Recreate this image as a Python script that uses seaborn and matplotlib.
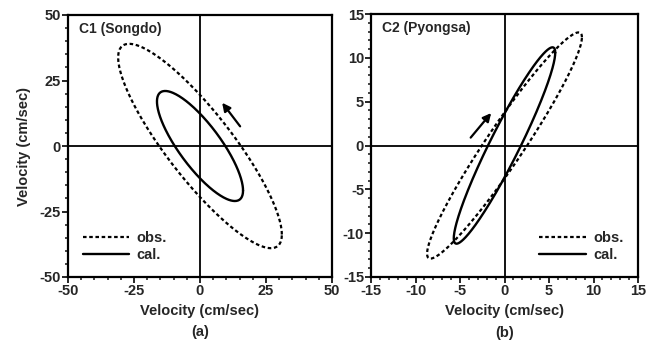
import numpy as np
import pandas as pd
import seaborn as sns
from matplotlib import pyplot as plt
from matplotlib.ticker import MultipleLocator

# Tidal current ellipses:
# u = U cos(t), v = V cos(t - phase)   (cm/sec, phase in degrees)
stations = ['C1 (Songdo)', 'C2 (Pyongsa)']
obs_u_amp = [31.0, 8.7]
obs_v_amp = [39.0, 12.9]
obs_phase = [150.0, 17.0]
cal_u_amp = [16.3, 5.7]
cal_v_amp = [21.0, 11.2]
cal_phase = [144.0, 19.0]

# rotation arrows (tail -> head), data units
arrow_tail = [(15.2, 7.5), (-3.8, 0.9)]
arrow_head = [(8.4, 16.5), (-1.5, 3.7)]

limits = [50, 15]
major_step = [25, 5]
minor_step = [5, 1]
panel_tags = ['(a)', '(b)']
legend_loc = ['lower left', 'lower right']

sns.set_style('white')
plt.rcParams['font.family'] = ['Liberation Sans', 'DejaVu Sans']
plt.rcParams['font.weight'] = 'bold'
plt.rcParams['axes.labelweight'] = 'bold'
plt.rcParams['axes.unicode_minus'] = False

phase_t = np.linspace(0, 2 * np.pi, 361)


def ellipse(U, V, ph):
    return pd.DataFrame({'u': U * np.cos(phase_t),
                         'v': V * np.cos(phase_t - np.deg2rad(ph))})


fig = plt.figure(figsize=(6.61, 3.51), dpi=100)
ax1 = fig.add_axes([68 / 661, 74 / 351, 264 / 661, 262 / 351])
ax2 = fig.add_axes([371 / 661, 74 / 351, 267 / 661, 263 / 351])

for i, ax in enumerate([ax1, ax2]):
    obs = ellipse(obs_u_amp[i], obs_v_amp[i], obs_phase[i])
    cal = ellipse(cal_u_amp[i], cal_v_amp[i], cal_phase[i])
    sns.lineplot(data=obs, x='u', y='v', sort=False, estimator=None, ax=ax,
                 color='black', lw=1.6, linestyle=(0, (1.6, 1.2)), label='obs.')
    sns.lineplot(data=cal, x='u', y='v', sort=False, estimator=None, ax=ax,
                 color='black', lw=1.7, label='cal.')
    ax.axhline(0, color='black', lw=1.3, zorder=1)
    ax.axvline(0, color='black', lw=1.3, zorder=1)
    ax.annotate('', xy=arrow_head[i], xytext=arrow_tail[i],
                arrowprops=dict(arrowstyle='-|>', color='black', lw=1.6,
                                mutation_scale=12, shrinkA=0, shrinkB=0))
    lim = limits[i]
    ax.set_xlim(-lim, lim)
    ax.set_ylim(-lim, lim)
    ax.xaxis.set_major_locator(MultipleLocator(major_step[i]))
    ax.yaxis.set_major_locator(MultipleLocator(major_step[i]))
    ax.xaxis.set_minor_locator(MultipleLocator(minor_step[i]))
    ax.yaxis.set_minor_locator(MultipleLocator(minor_step[i]))
    ax.tick_params(which='major', direction='out', length=4, width=1.4,
                   labelsize=10.5, pad=1, left=True, bottom=True)
    ax.tick_params(which='minor', direction='out', length=2.5, width=1.2,
                   left=True, bottom=True)
    for s in ax.spines.values():
        s.set_color('black')
        s.set_linewidth(1.6)
    ax.text(0.04, 0.975, stations[i], transform=ax.transAxes, ha='left',
            va='top', fontsize=10)
    ax.set_xlabel('Velocity (cm/sec)', fontsize=10.5, labelpad=4)
    if i == 0:
        ax.set_ylabel('Velocity (cm/sec)', fontsize=10.5, labelpad=6)
    else:
        ax.set_ylabel('')
    ax.legend(loc=legend_loc[i], frameon=False, fontsize=10.5, handlelength=3.2,
              handletextpad=0.5, labelspacing=0.2, borderaxespad=0.6)
    ax.text(0.5, -0.185, panel_tags[i], transform=ax.transAxes, ha='center',
            va='top', fontsize=10.5)

fig.savefig('out.png', dpi=100)
